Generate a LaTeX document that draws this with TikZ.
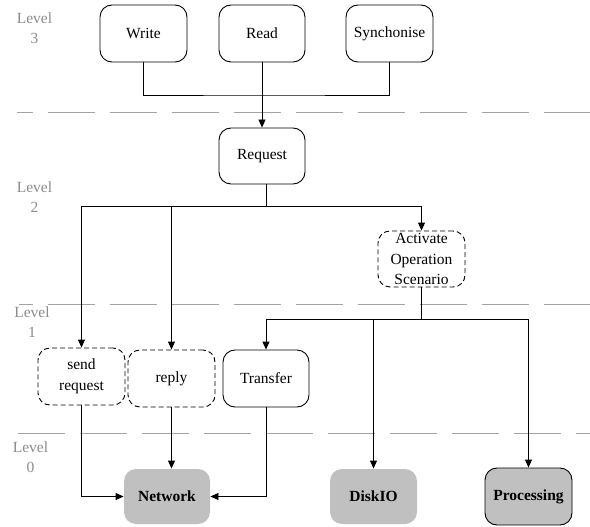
\documentclass[tikz,border=0pt]{standalone}
\usepackage{fontspec}
\setmainfont{Liberation Serif}
\usetikzlibrary{arrows.meta}
\definecolor{boxgray}{HTML}{C0C0C0}
\definecolor{lvlgray}{HTML}{8C8C8C}
\tikzset{
  box/.style={draw, rounded corners=12pt, line width=0.9pt, minimum width=87pt, minimum height=57pt, inner sep=1pt, align=center, font=\fontsize{15.5}{20.5}\selectfont},
  dbox/.style={box, dash pattern=on 5pt off 3pt},
  gbox/.style={box, draw=none, fill=boxgray, font=\fontsize{15.5}{20.5}\selectfont\bfseries},
  gboxb/.style={box, fill=boxgray, font=\fontsize{15.5}{20.5}\selectfont\bfseries},
  lvl/.style={text=lvlgray, align=center, inner sep=0pt, font=\fontsize{15.5}{20}\selectfont},
  sep/.style={draw=lvlgray!80, line width=0.9pt, dash pattern=on 47pt off 15pt},
  conn/.style={line width=0.9pt},
  arr/.style={conn, -{Triangle[length=8pt,width=7pt]}},
}
\begin{document}
\begin{tikzpicture}[x=1pt,y=-1pt]
\useasboundingbox (0,0) rectangle (590,527);
% level separators
\coordinate (s3a) at (17,112); \coordinate (s3b) at (590,112);
\coordinate (s2a) at (19,304); \coordinate (s2b) at (590,304);
\coordinate (s1a) at (18,433); \coordinate (s1b) at (590,433);
\draw[sep, dash phase=31pt] (s3a) -- (s3b);
\draw[sep, dash phase=33pt] (s2a) -- (s2b);
\draw[sep] (s1a) -- (s1b);
% level labels
\node[lvl] (l3) at (34.5,28) {Level\\3};
\node[lvl] (l2) at (34.5,197) {Level\\2};
\node[lvl] (l1) at (32,322) {Level\\1};
\node[lvl] (l0) at (30.5,457.5) {Level\\0};
% nodes
\node[box] (write) at (143.5,33.5) {Write};
\node[box, minimum width=86pt] (read) at (262,33.5) {Read};
\node[box] (synch) at (389.5,33.5) {Synchonise};
\node[box, minimum width=86pt, minimum height=56pt] (request) at (262,156) {Request};
\node[dbox, minimum height=56pt] (activate) at (421.5,259) {Activate\\Operation\\Scenario};
\node[dbox] (send) at (81.5,376.5) {send\\request};
\node[dbox] (reply) at (171.5,378.5) {reply};
\node[box, minimum width=86pt] (transfer) at (266,378.5) {Transfer};
\node[gbox, minimum width=86pt, minimum height=55pt] (network) at (167,496.5) {Network};
\node[gbox, minimum height=55pt] (diskio) at (373.5,496.5) {DiskIO};
\node[gboxb] (processing) at (528.5,496.5) {Processing};
% connectors level 3
\coordinate (j3) at (262,95);
\draw[conn] (write.south) |- (j3) -| (synch.south);
\draw[arr] (read.south) -- (request.north);
% level 2
\coordinate (j2) at (266,206);
\draw[conn] (request.south -| j2) -- (j2);
\draw[arr] (j2) -| (send.north);
\draw[arr] (j2) -| (activate.north);
\draw[arr] (reply.north |- j2) -- (reply.north);
% level 1
\coordinate (j1) at (421,319);
\draw[conn] (activate.south -| j1) -- (j1);
\draw[arr] (j1) -| (transfer.north);
\draw[arr] (j1) -| (processing.north);
\draw[arr] (diskio.north |- j1) -- (diskio.north);
% level 0
\draw[arr] (send.south) |- (network.west);
\draw[arr] (reply.south) -- (reply.south |- network.north);
\draw[arr] (transfer.south) |- (network.east);
\end{tikzpicture}
\end{document}
